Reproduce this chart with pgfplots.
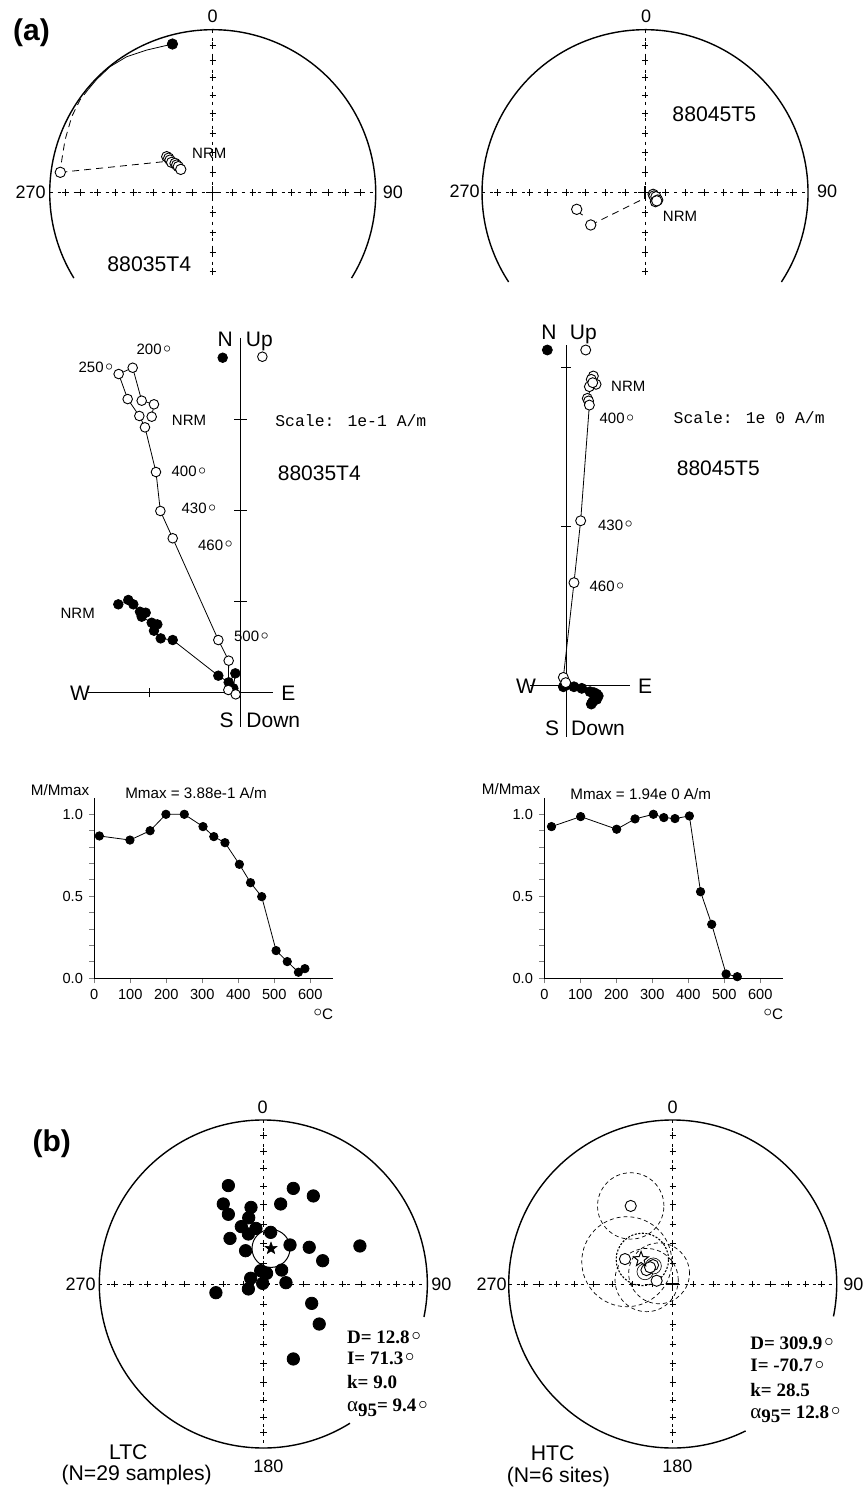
\documentclass[border=0pt]{standalone}
\usepackage{pgfplots}
\usepackage{pgfplotstable}
\pgfplotsset{compat=1.18}
\usepackage{fontspec}
\setmainfont{Liberation Sans}
\newfontfamily\cour{Liberation Mono}
\newfontfamily\tnr{Liberation Serif}
\newcommand\fs[1]{\fontsize{#1}{#1}\selectfont}
\newcommand\dg{\hspace{0.1em}\raisebox{0.3ex}{$\circ$}}

\pgfdeclareplotmark{fivestar}{%
 \pgfpathmoveto{\pgfpointpolar{90}{\pgfplotmarksize}}%
 \pgfpathlineto{\pgfpointpolar{126}{0.42\pgfplotmarksize}}%
 \pgfpathlineto{\pgfpointpolar{162}{\pgfplotmarksize}}%
 \pgfpathlineto{\pgfpointpolar{198}{0.42\pgfplotmarksize}}%
 \pgfpathlineto{\pgfpointpolar{234}{\pgfplotmarksize}}%
 \pgfpathlineto{\pgfpointpolar{270}{0.42\pgfplotmarksize}}%
 \pgfpathlineto{\pgfpointpolar{306}{\pgfplotmarksize}}%
 \pgfpathlineto{\pgfpointpolar{342}{0.42\pgfplotmarksize}}%
 \pgfpathlineto{\pgfpointpolar{18}{\pgfplotmarksize}}%
 \pgfpathlineto{\pgfpointpolar{54}{0.42\pgfplotmarksize}}%
 \pgfpathclose\pgfusepathqfillstroke}

\tikzset{axdash/.style={line width=0.35pt, dash pattern=on 1.5pt off 2.5pt}}
\pgfplotsset{
 stereo/.style={hide axis, anchor=center, clip=false,
   xmin=-1.2,xmax=1.2,ymin=-1.2,ymax=1.2, x=#1, y=#1},
 zij/.style={hide axis, anchor=south west, clip=false},
 grat/.style={black, only marks, mark=+, mark size=1.6pt, mark options={line width=0.4pt}},
 gctr/.style={black, only marks, mark=+, mark size=3.3pt, mark options={line width=0.6pt}},
 openc/.style={black, line width=0.4pt, mark=*, mark size=#1, mark options={fill=white, draw=black, line width=0.45pt}},
 fillc/.style={black, line width=0.4pt, mark=*, mark size=#1, mark options={fill=black, draw=black}},
 demag/.style={anchor=south west, x=0.18pt, y=82pt, xmin=0, xmax=664, ymin=0, ymax=1.1,
   axis lines*=left, axis line style={-, line width=0.6pt},
   xtick={0,100,200,300,400,500,600}, xticklabels={0,100,200,300,400,500,600},
   ytick={0,0.5,1}, yticklabels={0.0,0.5,1.0},
   minor ytick={0.1,0.2,0.3,0.4,0.6,0.7,0.8,0.9},
   tick align=outside, major tick length=2.5pt, minor tick length=2.5pt,
   x tick style={line width=0.4pt}, y tick style={line width=0.5pt},
   ticklabel style={font=\fs{7.3}, inner sep=3pt}, clip=false},
}

\pgfplotstableread{
x y
0 0.1233
0 0.2456
0 0.3660
0 0.4837
0 0.5977
0 0.7071
0 0.8112
0 0.9063
0 -0.1233
0 -0.2456
0 -0.3660
0 -0.4837
0 -0.5977
0 -0.7071
0 -0.8112
0 -0.9063
0.1233 0
0.2456 0
0.3660 0
0.4837 0
0.5977 0
0.7071 0
0.8112 0
0.9063 0
-0.1233 0
-0.2456 0
-0.3660 0
-0.4837 0
-0.5977 0
-0.7071 0
-0.8112 0
-0.9063 0
}\gratfull

\pgfplotstableread{
x y
0 0.1233
0 0.2456
0 0.3660
0 0.4837
0 0.5977
0 0.7071
0 0.8112
0 0.9063
0 -0.1233
0 -0.2456
0 -0.3660
0 -0.4837
0.1233 0
0.2456 0
0.3660 0
0.4837 0
0.5977 0
0.7071 0
0.8112 0
0.9063 0
-0.1233 0
-0.2456 0
-0.3660 0
-0.4837 0
-0.5977 0
-0.7071 0
-0.8112 0
-0.9063 0
}\grattop

% Zijderveld 88035T4 (units of 1e-1 A/m)
\pgfplotstableread{
x y
-0.978 3.033
-0.953 3.169
-1.088 3.209
-1.187 3.571
-1.341 3.502
-1.242 3.227
-1.114 3.041
-1.052 2.916
-0.931 2.425
-0.883 1.997
-0.747 1.697
-0.246 0.579
-0.132 0.352
-0.136 0.030
-0.055 -0.018
}\zlopen
\pgfplotstableread{
x y
-1.345 0.971
-1.235 1.019
-1.180 0.971
-1.107 0.890
-1.044 0.879
-1.088 0.835
-0.978 0.769
-0.916 0.751
-0.953 0.681
-0.879 0.597
-0.747 0.579
-0.246 0.187
-0.132 0.114
-0.059 0.213
-0.081 0.048
}\zlfill

% Zijderveld 88045T5 (units of 1e0 A/m)
\pgfplotstableread{
x y
0.168 1.947
0.155 1.926
0.185 1.895
0.143 1.880
0.164 1.905
0.130 1.806
0.138 1.790
0.143 1.764
0.088 1.035
0.046 0.645
-0.021 0.048
-0.006 0.015
}\zropen
\pgfplotstableread{
x y
-0.021 -0.011
0.000 0.000
0.046 -0.011
0.095 -0.021
0.147 -0.042
0.172 -0.048
0.189 -0.057
0.199 -0.069
0.178 -0.084
0.164 -0.105
0.155 -0.120
0.189 -0.090
}\zrfill

% Thermal demagnetization
\pgfplotstableread{
T M
14 0.868
99 0.843
155 0.900
199 1.000
250 1.000
302 0.925
332 0.864
363 0.827
403 0.695
434 0.583
465 0.498
505 0.169
536 0.102
567 0.037
585 0.059
}\dmleft
\pgfplotstableread{
T M
20 0.925
101 0.986
201 0.909
252 0.972
303 1.000
332 0.980
363 0.974
403 0.990
434 0.528
465 0.329
505 0.026
536 0.010
}\dmright

% LTC samples (equal-area projection, unit radius)
\pgfplotstableread{
x y
-0.213 0.600
0.183 0.583
0.305 0.537
-0.244 0.488
-0.075 0.467
0.106 0.488
-0.213 0.425
-0.089 0.404
-0.134 0.350
-0.045 0.339
-0.091 0.305
0.045 0.315
-0.203 0.278
0.163 0.238
0.280 0.224
0.589 0.232
-0.108 0.203
0.362 0.142
-0.016 0.081
0.112 0.085
-0.077 0.035
0.020 0.065
-0.004 0.004
0.138 0.008
-0.091 -0.030
-0.289 -0.053
0.295 -0.118
0.341 -0.244
0.183 -0.457
}\ltc

\begin{document}
\begin{tikzpicture}[every node/.style={inner sep=0pt}]

% ---------- top-left stereonet ----------
\begin{axis}[stereo=81.5pt, at={(106.35pt,-96.35pt)}]
\draw[line width=0.7pt] (axis cs:0.8517,-0.5240) arc[start angle=-31.6, end angle=211.6, radius=81.5pt];
\draw[axdash] (axis cs:-1,0) -- (axis cs:1,0);
\draw[axdash] (axis cs:0,1) -- (axis cs:0,-0.52);
\addplot[grat] table {\grattop};
\addplot[gctr] coordinates {(0,0)};
\addplot[black, line width=0.4pt, mark=none] coordinates {(-0.247,0.912) (-0.405,0.875) (-0.528,0.834) (-0.630,0.773) (-0.712,0.695) (-0.763,0.634)};
\addplot[black, line width=0.4pt, mark=none, dash pattern=on 3.5pt off 2.5pt] coordinates {(-0.763,0.634) (-0.814,0.569) (-0.865,0.466) (-0.906,0.323) (-0.926,0.200) (-0.935,0.125)};
\addplot[black, line width=0.4pt, mark=none, dash pattern=on 3.5pt off 2.5pt] coordinates {(-0.935,0.125) (-0.303,0.190)};
\addplot[fillc=2.6pt, only marks] coordinates {(-0.247,0.912)};
\addplot[openc=2.6pt, only marks] coordinates {(-0.935,0.125)};
\addplot[openc=2.6pt, only marks] table {
x y
-0.282 0.221
-0.270 0.212
-0.262 0.200
-0.252 0.186
-0.231 0.180
-0.221 0.170
-0.211 0.160
-0.196 0.143
};
\end{axis}

% ---------- top-right stereonet ----------
\begin{axis}[stereo=81.5pt, at={(322.5pt,-96.35pt)}]
\draw[line width=0.7pt] (axis cs:0.8368,-0.5476) arc[start angle=-33.2, end angle=213.2, radius=81.5pt];
\draw[axdash] (axis cs:-1,0) -- (axis cs:1,0);
\draw[axdash] (axis cs:0,1) -- (axis cs:0,-0.52);
\addplot[grat] table {\grattop};
\addplot[gctr] coordinates {(0,0)};
\addplot[black, line width=0.4pt, mark=none, dash pattern=on 3.5pt off 2.5pt] coordinates {(-0.333,-0.198) (-0.010,-0.038)};
\addplot[black, line width=0.4pt, mark=none] coordinates {(-0.399,-0.127) (-0.382,-0.137)};
\addplot[openc=2.6pt, only marks] coordinates {(-0.419,-0.102) (-0.333,-0.198)};
\addplot[openc=2.6pt, only marks] table {
x y
0.050 -0.010
0.055 -0.020
0.067 -0.025
0.078 -0.045
0.064 -0.055
0.072 -0.050
};
\end{axis}

% ---------- Zijderveld 88035T4 ----------
\begin{axis}[zij, x=45.5pt, y=45.5pt, xmin=-2, xmax=0.6, ymin=-0.6, ymax=4.2, at={(29.35pt,-373.65pt)}]
\draw[line width=0.5pt] (axis cs:0,3.898) -- (axis cs:0,-0.377);
\draw[line width=0.5pt] (axis cs:-1.678,0) -- (axis cs:0.355,0);
\draw[line width=0.5pt] (axis cs:-0.07,1) -- (axis cs:0.07,1);
\draw[line width=0.5pt] (axis cs:-0.07,2) -- (axis cs:0.07,2);
\draw[line width=0.5pt] (axis cs:-0.07,3) -- (axis cs:0.07,3);
\draw[line width=0.5pt] (axis cs:-1,-0.05) -- (axis cs:-1,0.05);
\addplot[fillc=2.4pt] table {\zlfill};
\addplot[openc=2.4pt] table {\zlopen};
\addplot[fillc=2.4pt, only marks] coordinates {(-0.198,3.681)};
\addplot[openc=2.4pt, only marks] coordinates {(0.238,3.692)};
\end{axis}

% ---------- Zijderveld 88045T5 ----------
\begin{axis}[zij, x=79.35pt, y=79.35pt, xmin=-0.4, xmax=0.6, ymin=-0.4, ymax=2.4, at={(251.6pt,-374.25pt)}]
\draw[line width=0.5pt] (axis cs:0,2.142) -- (axis cs:0,-0.328);
\draw[line width=0.5pt] (axis cs:-0.231,0) -- (axis cs:0.399,0);
\draw[line width=0.5pt] (axis cs:-0.035,1) -- (axis cs:0.025,1);
\draw[line width=0.5pt] (axis cs:-0.035,2) -- (axis cs:0.025,2);
\addplot[fillc=2.5pt] table {\zrfill};
\addplot[openc=2.5pt] table {\zropen};
\addplot[fillc=2.5pt, only marks] coordinates {(-0.122,2.111)};
\addplot[openc=2.5pt, only marks] coordinates {(0.120,2.111)};
\end{axis}

% ---------- demag curves ----------
\begin{axis}[demag, at={(47.15pt,-489.15pt)}]
\addplot[fillc=2.1pt] table[x=T, y=M] {\dmleft};
\end{axis}
\begin{axis}[demag, at={(272.15pt,-489.15pt)}]
\addplot[fillc=2.1pt] table[x=T, y=M] {\dmright};
\end{axis}

% ---------- LTC stereonet ----------
\begin{axis}[stereo=82pt, at={(131.65pt,-642pt)}]
\draw[line width=0.7pt] (axis cs:0.9796,-0.2011) arc[start angle=-11.6, end angle=301.9, radius=82pt];
\draw[axdash] (axis cs:-1,0) -- (axis cs:1,0);
\draw[axdash] (axis cs:0,1) -- (axis cs:0,-1);
\addplot[grat] table {\gratfull};
\addplot[gctr] coordinates {(0,0)};
\addplot[fillc=3.1pt, only marks] table {\ltc};
\draw[line width=0.5pt] (axis cs:0.047,0.217) circle[radius=9.5pt];
\addplot[black, only marks, mark=fivestar, mark size=3.1pt, mark options={fill=black, line width=0.3pt}] coordinates {(0.047,0.217)};
\end{axis}

% ---------- HTC stereonet ----------
\begin{axis}[stereo=82pt, at={(336.35pt,-642pt)}]
\draw[line width=0.7pt] (axis cs:0.9803,-0.1977) arc[start angle=-11.4, end angle=296.4, radius=82pt];
\draw[axdash] (axis cs:-1,0) -- (axis cs:1,0);
\draw[axdash] (axis cs:0,1) -- (axis cs:0,-1);
\addplot[grat] table {\gratfull};
\addplot[gctr] coordinates {(0,0)};
\draw[line width=0.35pt, dash pattern=on 2pt off 1.5pt] (axis cs:-0.256,0.476) circle[radius=16.6pt];
\draw[line width=0.35pt, dash pattern=on 2pt off 1.5pt] (axis cs:-0.280,0.136) circle[radius=22.5pt];
\draw[line width=0.35pt, dash pattern=on 2pt off 1.5pt] (axis cs:-0.083,0.065) circle[radius=15.2pt];
\draw[line width=0.35pt, dash pattern=on 2pt off 1.5pt] (axis cs:-0.159,0.024) circle[radius=15.8pt];
\draw[line width=0.55pt, dash pattern=on 1pt off 0.8pt] (axis cs:-0.185,0.150) circle[radius=13.1pt];
\draw[line width=0.3pt] (axis cs:-0.169,0.075) circle[radius=4pt];
\draw[line width=0.3pt] (axis cs:-0.118,0.110) circle[radius=4pt];
\addplot[openc=2.8pt, only marks] table {
x y
-0.256 0.476
-0.291 0.152
-0.160 0.085
-0.120 0.115
-0.138 0.102
-0.098 0.020
};
\addplot[black, only marks, mark=fivestar, mark size=3.9pt, mark options={fill=white, line width=0.5pt}] coordinates {(-0.193,0.151)};
\end{axis}

% ---------- texts ----------
\begin{scope}[x=0.5pt,y=-0.5pt]
\node[font=\bfseries\fs{15}] at (31.5,33) {(a)};
\node[font=\fs{9}] at (212.7,16.5) {0};
\node[font=\fs{9},anchor=east] at (46,192.7) {270};
\node[font=\fs{9},anchor=west] at (382.5,192.7) {90};
\node[font=\fs{7.5}] at (209.3,153.3) {NRM};
\node[font=\fs{10.6}] at (149.3,264) {88035T4};
\node[font=\fs{9}] at (646,16.7) {0};
\node[font=\fs{9},anchor=east] at (480,191.7) {270};
\node[font=\fs{9},anchor=west] at (816.7,191.7) {90};
\node[font=\fs{10.6}] at (714.3,114.3) {88045T5};
\node[font=\fs{7.5}] at (680,216) {NRM};

% Zijderveld left
\node[font=\fs{10.5},anchor=base] at (225.3,346) {N};
\node[font=\fs{10.5},anchor=base] at (259.3,346) {Up};
\node[font=\fs{10.5},anchor=base] at (80,700.7) {W};
\node[font=\fs{10.5},anchor=base] at (288.3,700.7) {E};
\node[font=\fs{10.5},anchor=base] at (226.7,727) {S};
\node[font=\fs{10.5},anchor=base] at (273.3,727) {Down};
\node[font=\fs{7.5}] at (154,349.3) {200\dg};
\node[font=\fs{7.5}] at (96,367.3) {250\dg};
\node[font=\fs{7.5}] at (189,420) {NRM};
\node[font=\fs{7.5}] at (189,471.7) {400\dg};
\node[font=\fs{7.5}] at (199,508.3) {430\dg};
\node[font=\fs{7.5}] at (215.5,545) {460\dg};
\node[font=\fs{7.5}] at (77.7,613.3) {NRM};
\node[font=\fs{7.5}] at (251.5,636.7) {500\dg};
\node[font=\cour\fs{8.2},anchor=west] at (275,420.7) {Scale: 1e-1 A/m};
\node[font=\fs{10.5}] at (319.3,473.3) {88035T4};

% Zijderveld right
\node[font=\fs{10.5},anchor=base] at (549,340) {N};
\node[font=\fs{10.5},anchor=base] at (583.3,340) {Up};
\node[font=\fs{10.5},anchor=base] at (526,693.3) {W};
\node[font=\fs{10.5},anchor=base] at (645,693.3) {E};
\node[font=\fs{10.5},anchor=base] at (552,735) {S};
\node[font=\fs{10.5},anchor=base] at (598,735) {Down};
\node[font=\fs{7.5}] at (628.3,386) {NRM};
\node[font=\fs{7.5}] at (617,418.3) {400\dg};
\node[font=\fs{7.5}] at (615.5,525) {430\dg};
\node[font=\fs{7.5}] at (607,586.7) {460\dg};
\node[font=\cour\fs{8.2},anchor=west] at (673.3,417.7) {Scale: 1e 0 A/m};
\node[font=\fs{10.5}] at (718.3,468.3) {88045T5};

% demag
\node[font=\fs{7.6}] at (60,790) {M/Mmax};
\node[font=\fs{7.6}] at (196,793.3) {Mmax = 3.88e-1 A/m};
\node[font=\fs{7.6}] at (323.3,1014) {\raisebox{0.3ex}{$\circ$}C};
\node[font=\fs{7.6}] at (511,789.3) {M/Mmax};
\node[font=\fs{7.6}] at (640.7,794) {Mmax = 1.94e 0 A/m};
\node[font=\fs{7.6}] at (773.3,1014) {\raisebox{0.3ex}{$\circ$}C};

% bottom nets
\node[font=\bfseries\fs{15}] at (51.7,1143.3) {(b)};
\node[font=\fs{9}] at (262.7,1107.3) {0};
\node[font=\fs{9},anchor=east] at (96,1284) {270};
\node[font=\fs{9},anchor=west] at (431,1284) {90};
\node[font=\fs{9}] at (268.3,1466.7) {180};
\node[font=\fs{10.6}] at (128.3,1451.7) {LTC};
\node[font=\fs{10.6}] at (136.7,1475) {(N=29 samples)};
\node[font=\tnr\bfseries\fs{9.5},anchor=base west] at (346.7,1343.3) {D= 12.8\dg};
\node[font=\tnr\bfseries\fs{9.5},anchor=base west] at (346.7,1364.3) {I= 71.3\dg};
\node[font=\tnr\bfseries\fs{9.5},anchor=base west] at (346.7,1388.3) {k= 9.0};
\node[font=\tnr\bfseries\fs{9.5},anchor=base west] at (346.7,1411.7) {{\mdseries\fs{10.5}α}\raisebox{-0.5ex}{95}= 9.4\dg};

\node[font=\fs{9}] at (672.7,1107.3) {0};
\node[font=\fs{9},anchor=east] at (507,1284) {270};
\node[font=\fs{9},anchor=west] at (843,1284) {90};
\node[font=\fs{9}] at (677.3,1466.7) {180};
\node[font=\fs{10.6}] at (552.7,1452.7) {HTC};
\node[font=\fs{10.6}] at (558.3,1476.7) {(N=6 sites)};
\node[font=\tnr\bfseries\fs{9.5},anchor=base west] at (750,1349.3) {D= 309.9\dg};
\node[font=\tnr\bfseries\fs{9.5},anchor=base west] at (750,1371.7) {I= -70.7\dg};
\node[font=\tnr\bfseries\fs{9.5},anchor=base west] at (750,1396) {k= 28.5};
\node[font=\tnr\bfseries\fs{9.5},anchor=base west] at (750,1418.3) {{\mdseries\fs{10.5}α}\raisebox{-0.5ex}{95}= 12.8\dg};
\end{scope}

\pgfresetboundingbox
\path[use as bounding box] (0pt,0pt) rectangle (431.5pt,-746pt);
\end{tikzpicture}
\end{document}
